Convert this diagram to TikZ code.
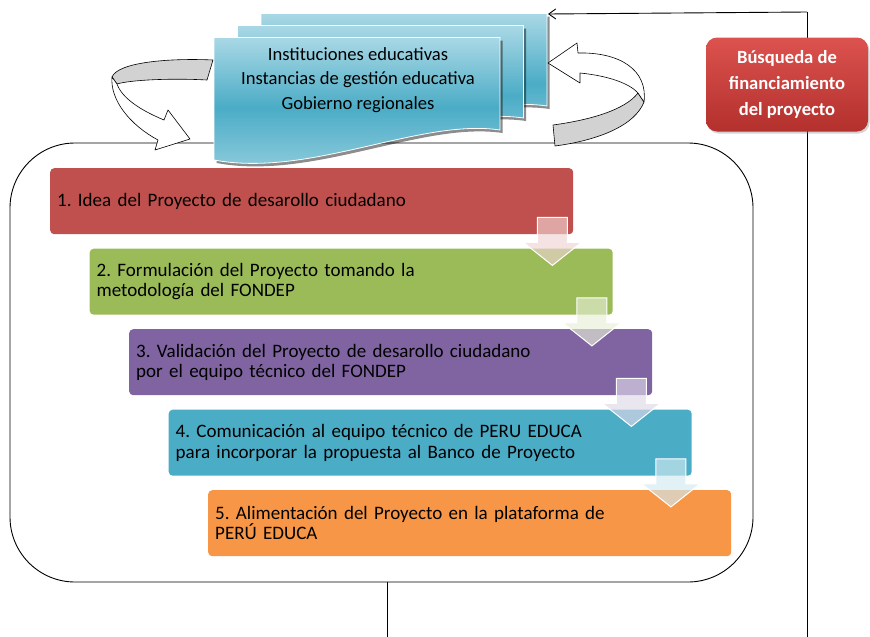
\documentclass[tikz,border=0pt]{standalone}
\usepackage{fontspec}
\setmainfont{Carlito}
\frenchspacing
\usetikzlibrary{arrows.meta,shadows}
\definecolor{rojo}{HTML}{C0504D}
\definecolor{verde}{HTML}{9BBB59}
\definecolor{morado}{HTML}{8064A2}
\definecolor{celeste}{HTML}{4BACC6}
\definecolor{naranja}{HTML}{F79646}
\definecolor{docclaro}{HTML}{A9D8E5}
\definecolor{docoscuro}{HTML}{4BACC6}
\definecolor{finclaro}{HTML}{DC524E}
\definecolor{finoscuro}{HTML}{B3302D}
\tikzset{
  stepbox/.style={anchor=north west, rounded corners=4pt, inner xsep=7pt,
    text width=509pt, minimum height=66pt, align=left,
    font=\fontsize{19pt}{20.5pt}\selectfont},
  finbox/.style={rounded corners=11pt, minimum width=162pt, minimum height=94pt,
    top color=finclaro, bottom color=finoscuro, text=white, align=center,
    font=\fontsize{18.6pt}{26pt}\selectfont\bfseries,
    drop shadow={shadow xshift=1.5pt, shadow yshift=-2pt, opacity=.35}},
  doctext/.style={align=center, font=\fontsize{18.6pt}{24.5pt}\selectfont},
  giro/.style={draw=black, line width=.6pt, line join=round},
  linea/.style={line width=.9pt}
}
% flecha de paso bajo la esquina inferior derecha de una caja
\newcommand\flechapaso[2]{%
  \filldraw[fill=#2!25!white, fill opacity=.65, draw=white, line width=1pt]
    ([shift={(-36,-17)}]#1.south east) -- ([shift={(-6,-17)}]#1.south east)
    -- ([shift={(-6,8)}]#1.south east) -- ([shift={(8,8)}]#1.south east)
    -- ([shift={(-21,31)}]#1.south east) -- ([shift={(-50,8)}]#1.south east)
    -- ([shift={(-36,8)}]#1.south east) -- cycle;}
\begin{document}
\begin{tikzpicture}[x=1pt,y=-1pt]
\useasboundingbox (0,0) rectangle (870,637);
% marco
\draw[linea, rounded corners=65pt] (10,143) rectangle (753,582);
\coordinate (marcoS) at (387,582);
\coordinate (pie) at (387,637);
\draw[linea] (marcoS) -- (pie);
% retorno desde la busqueda de financiamiento
\coordinate (esq) at (807,12);
\coordinate (base) at (807,637);
\coordinate (docs) at (548,14);
\draw[linea] (base) -- (esq);
\draw[linea, -{Straight Barb[length=7pt,width=10pt]}] (esq) -- (docs);
\node[finbox] (fin) at (787,84.5) {Búsqueda de\\financiamiento\\del proyecto};
% documentos
\foreach \dx/\dy in {47/-24, 23.5/-12, 0/0} {
  \fill[black, opacity=.45, shift={(\dx+2.5,\dy+3)}]
    (214,37.5) -- (500,37.5) -- (500,130) .. controls (420,118) and (310,178) .. (214,160) -- cycle;
  \shade[top color=docclaro, bottom color=docclaro!80!docoscuro, middle color=docoscuro,
    draw=white, line width=.8pt, shift={(\dx,\dy)}]
    (214,37.5) -- (500,37.5) -- (500,130) .. controls (420,118) and (310,178) .. (214,160) -- cycle;
}
\node[doctext] (inst) at (358,80) {Instituciones educativas\\Instancias de gestión educativa\\Gobierno regionales};
% giro izquierdo
\filldraw[giro, fill=gray!35] (213,60) .. controls (170,58) and (118,62) .. (112,77)
  -- (117,84) .. controls (130,80) and (170,78) .. (207,80) -- cycle;
\filldraw[giro, fill=white] (112,77) .. controls (110,100) and (130,125) .. (158,140)
  -- (155,150) -- (190,139) -- (168,110) -- (164,120)
  .. controls (140,110) and (122,98) .. (117,84) -- cycle;
% giro derecho
\filldraw[giro, fill=gray!35] (553,125) .. controls (590,120) and (625,110) .. (638,93)
  -- (644,102) .. controls (635,125) and (600,140) .. (555,146) -- cycle;
\filldraw[giro, fill=white] (638,93) .. controls (630,84) and (610,76) .. (580,73)
  -- (580,83) -- (548,63) -- (577,43) -- (578,53)
  .. controls (620,52) and (648,70) .. (644,102) -- cycle;
% pasos
\node[stepbox, fill=rojo] (p1) at (50,168) {1. Idea del Proyecto de desarollo ciudadano};
\node[stepbox, fill=verde] (p2) at (89.5,248.5) {2. Formulación del Proyecto tomando la\\metodología del FONDEP};
\node[stepbox, fill=morado] (p3) at (129,329) {3. Validación del Proyecto de desarollo ciudadano\\por el equipo técnico del FONDEP};
\node[stepbox, fill=celeste] (p4) at (168.5,409.5) {4. Comunicación al equipo técnico de PERU EDUCA\\para incorporar la propuesta al Banco de Proyecto};
\node[stepbox, fill=naranja] (p5) at (208,490) {5. Alimentación del Proyecto en la plataforma de\\PERÚ EDUCA};
\flechapaso{p1}{rojo}
\flechapaso{p2}{verde}
\flechapaso{p3}{morado}
\flechapaso{p4}{celeste}
\end{tikzpicture}
\end{document}
